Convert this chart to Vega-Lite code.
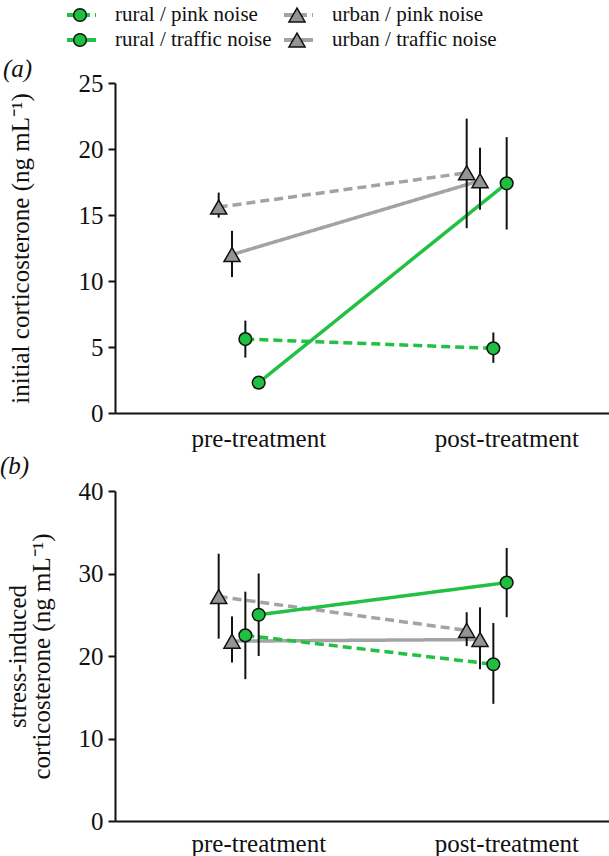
{
  "$schema": "https://vega.github.io/schema/vega-lite/v6.json",
  "padding": {"left": 0, "top": 4, "right": 0, "bottom": 0},
  "background": "white",
  "config": {
    "font": "Liberation Serif",
    "view": {"stroke": null},
    "axis": {
      "labelFont": "Liberation Serif", "titleFont": "Liberation Serif",
      "labelColor": "#111", "titleColor": "#111", "domainColor": "#111", "tickColor": "#111",
      "domainWidth": 2, "tickWidth": 2, "grid": false,
      "labelFontSize": 25, "titleFontSize": 25, "titleFontWeight": "normal"
    },
    "title": {"font": "Liberation Serif", "fontSize": 25, "fontWeight": "normal", "fontStyle": "italic", "color": "#111", "anchor": "start", "frame": "bounds"}
  },
  "datasets": {
    "groups": [
      {"habitat": "rural", "noise": "pink noise", "group": "rural / pink noise"},
      {"habitat": "rural", "noise": "traffic noise", "group": "rural / traffic noise"},
      {"habitat": "urban", "noise": "pink noise", "group": "urban / pink noise"},
      {"habitat": "urban", "noise": "traffic noise", "group": "urban / traffic noise"}
    ],
    "a": [
      {"phase": "pre-treatment", "habitat": "urban", "noise": "pink noise", "group": "urban / pink noise", "mean": 15.6, "lo": 14.8, "hi": 16.7},
      {"phase": "pre-treatment", "habitat": "urban", "noise": "traffic noise", "group": "urban / traffic noise", "mean": 12.0, "lo": 10.3, "hi": 13.8},
      {"phase": "pre-treatment", "habitat": "rural", "noise": "pink noise", "group": "rural / pink noise", "mean": 5.6, "lo": 4.2, "hi": 7.0},
      {"phase": "pre-treatment", "habitat": "rural", "noise": "traffic noise", "group": "rural / traffic noise", "mean": 2.3, "lo": 2.0, "hi": 2.6},
      {"phase": "post-treatment", "habitat": "urban", "noise": "pink noise", "group": "urban / pink noise", "mean": 18.2, "lo": 14.0, "hi": 22.3},
      {"phase": "post-treatment", "habitat": "urban", "noise": "traffic noise", "group": "urban / traffic noise", "mean": 17.6, "lo": 15.4, "hi": 20.1},
      {"phase": "post-treatment", "habitat": "rural", "noise": "pink noise", "group": "rural / pink noise", "mean": 4.9, "lo": 3.8, "hi": 6.1},
      {"phase": "post-treatment", "habitat": "rural", "noise": "traffic noise", "group": "rural / traffic noise", "mean": 17.4, "lo": 13.9, "hi": 20.9}
    ],
    "b": [
      {"phase": "pre-treatment", "habitat": "urban", "noise": "pink noise", "group": "urban / pink noise", "mean": 27.2, "lo": 22.1, "hi": 32.4},
      {"phase": "pre-treatment", "habitat": "urban", "noise": "traffic noise", "group": "urban / traffic noise", "mean": 21.8, "lo": 19.2, "hi": 24.8},
      {"phase": "pre-treatment", "habitat": "rural", "noise": "pink noise", "group": "rural / pink noise", "mean": 22.5, "lo": 17.2, "hi": 27.8},
      {"phase": "pre-treatment", "habitat": "rural", "noise": "traffic noise", "group": "rural / traffic noise", "mean": 25.0, "lo": 20.0, "hi": 30.0},
      {"phase": "post-treatment", "habitat": "urban", "noise": "pink noise", "group": "urban / pink noise", "mean": 23.1, "lo": 21.2, "hi": 25.3},
      {"phase": "post-treatment", "habitat": "urban", "noise": "traffic noise", "group": "urban / traffic noise", "mean": 22.0, "lo": 18.4, "hi": 25.9},
      {"phase": "post-treatment", "habitat": "rural", "noise": "pink noise", "group": "rural / pink noise", "mean": 19.0, "lo": 14.2, "hi": 24.0},
      {"phase": "post-treatment", "habitat": "rural", "noise": "traffic noise", "group": "rural / traffic noise", "mean": 28.9, "lo": 24.7, "hi": 33.1}
    ]
  },
  "spacing": 43,
  "bounds": "flush",
  "vconcat": [
    {
      "width": 496,
      "height": 25,
      "data": {"name": "groups"},
      "encoding": {
        "x": {"field": "habitat", "type": "nominal", "scale": {"type": "point", "domain": ["rural", "urban"], "range": [-35, 182], "padding": 0}, "axis": null},
        "y": {"field": "noise", "type": "nominal", "scale": {"type": "point", "domain": ["pink noise", "traffic noise"], "range": [0, 25], "padding": 0}, "axis": null}
      },
      "layer": [
        {
          "mark": {"type": "rule", "strokeWidth": 4, "xOffset": -13, "x2Offset": 16},
          "encoding": {
            "x2": {"field": "habitat"},
            "color": {"field": "habitat", "type": "nominal", "scale": {"domain": ["rural", "urban"], "range": ["#22c043", "#a3a3a3"]}, "legend": null},
            "strokeDash": {"field": "noise", "type": "nominal", "scale": {"domain": ["pink noise", "traffic noise"], "range": [[9, 5], [1, 0]]}, "legend": null}
          }
        },
        {
          "mark": {"type": "point", "filled": true, "stroke": "#111", "strokeWidth": 1.5, "opacity": 1},
          "encoding": {
            "fill": {"field": "habitat", "type": "nominal", "scale": {"domain": ["rural", "urban"], "range": ["#1fbf3f", "#949494"]}, "legend": null},
            "shape": {"field": "habitat", "type": "nominal", "scale": {"domain": ["rural", "urban"], "range": ["circle", "triangle-up"]}, "legend": null},
            "size": {"field": "habitat", "type": "nominal", "scale": {"domain": ["rural", "urban"], "range": [160, 260]}, "legend": null}
          }
        },
        {
          "mark": {"type": "text", "align": "left", "baseline": "middle", "dx": 35, "fontSize": 21, "font": "Liberation Serif", "color": "#111"},
          "encoding": {"text": {"field": "group"}}
        }
      ]
    },
    {
      "spacing": 78,
      "bounds": "flush",
      "vconcat": [
        {
          "width": 496,
          "height": 330,
          "data": {"name": "a"},
          "title": {"text": "(a)", "offset": -11, "dx": -5},
          "encoding": {
            "x": {"field": "phase", "type": "nominal", "sort": ["pre-treatment", "post-treatment"], "scale": {"paddingInner": 0.16, "paddingOuter": 0.08, "align": 1}, "axis": {"title": null, "ticks": false, "labelPadding": 13, "labelAngle": 0}},
            "xOffset": {"field": "group", "type": "nominal", "sort": ["urban / pink noise", "urban / traffic noise", "rural / pink noise", "rural / traffic noise"], "scale": {"type": "point", "range": [64, 104], "padding": 0}}
          },
          "layer": [
            {
              "mark": {"type": "line", "strokeWidth": 3.5},
              "encoding": {
                "y": {"field": "mean", "type": "quantitative", "scale": {"domain": [0, 25], "nice": false}, "axis": {"title": "initial corticosterone (ng mL⁻¹)", "values": [0, 5, 10, 15, 20, 25], "tickSize": 7, "labelPadding": 5, "titlePadding": 45}},
                "color": {"field": "habitat", "type": "nominal", "scale": {"domain": ["rural", "urban"], "range": ["#22c043", "#a3a3a3"]}, "legend": null},
                "strokeDash": {"field": "noise", "type": "nominal", "scale": {"domain": ["pink noise", "traffic noise"], "range": [[9, 5], [1, 0]]}, "legend": null},
                "detail": {"field": "group"}
              }
            },
            {
              "mark": {"type": "rule", "strokeWidth": 2, "color": "#111"},
              "encoding": {
                "y": {"field": "lo", "type": "quantitative"},
                "y2": {"field": "hi"}
              }
            },
            {
              "mark": {"type": "point", "filled": true, "stroke": "#111", "strokeWidth": 1.5, "opacity": 1},
              "encoding": {
                "y": {"field": "mean", "type": "quantitative"},
                "fill": {"field": "habitat", "type": "nominal", "scale": {"domain": ["rural", "urban"], "range": ["#1fbf3f", "#949494"]}, "legend": null},
                "shape": {"field": "habitat", "type": "nominal", "scale": {"domain": ["rural", "urban"], "range": ["circle", "triangle-up"]}, "legend": null},
                "size": {"field": "habitat", "type": "nominal", "scale": {"domain": ["rural", "urban"], "range": [240, 300]}, "legend": null}
              }
            }
          ]
        },
        {
          "width": 496,
          "height": 330,
          "data": {"name": "b"},
          "title": {"text": "(b)", "offset": 0, "dx": -5},
          "encoding": {
            "x": {"field": "phase", "type": "nominal", "sort": ["pre-treatment", "post-treatment"], "scale": {"paddingInner": 0.16, "paddingOuter": 0.08, "align": 1}, "axis": {"title": null, "ticks": false, "labelPadding": 10, "labelAngle": 0}},
            "xOffset": {"field": "group", "type": "nominal", "sort": ["urban / pink noise", "urban / traffic noise", "rural / pink noise", "rural / traffic noise"], "scale": {"type": "point", "range": [64, 104], "padding": 0}}
          },
          "layer": [
            {
              "mark": {"type": "line", "strokeWidth": 3.5},
              "encoding": {
                "y": {"field": "mean", "type": "quantitative", "scale": {"domain": [0, 40], "nice": false}, "axis": {"title": ["stress-induced", "corticosterone (ng mL⁻¹)"], "titleLineHeight": 24, "values": [0, 10, 20, 30, 40], "tickSize": 7, "labelPadding": 5, "titlePadding": 24}},
                "color": {"field": "habitat", "type": "nominal", "scale": {"domain": ["rural", "urban"], "range": ["#22c043", "#a3a3a3"]}, "legend": null},
                "strokeDash": {"field": "noise", "type": "nominal", "scale": {"domain": ["pink noise", "traffic noise"], "range": [[9, 5], [1, 0]]}, "legend": null},
                "detail": {"field": "group"}
              }
            },
            {
              "mark": {"type": "rule", "strokeWidth": 2, "color": "#111"},
              "encoding": {
                "y": {"field": "lo", "type": "quantitative"},
                "y2": {"field": "hi"}
              }
            },
            {
              "mark": {"type": "point", "filled": true, "stroke": "#111", "strokeWidth": 1.5, "opacity": 1},
              "encoding": {
                "y": {"field": "mean", "type": "quantitative"},
                "fill": {"field": "habitat", "type": "nominal", "scale": {"domain": ["rural", "urban"], "range": ["#1fbf3f", "#949494"]}, "legend": null},
                "shape": {"field": "habitat", "type": "nominal", "scale": {"domain": ["rural", "urban"], "range": ["circle", "triangle-up"]}, "legend": null},
                "size": {"field": "habitat", "type": "nominal", "scale": {"domain": ["rural", "urban"], "range": [240, 300]}, "legend": null}
              }
            }
          ]
        }
      ]
    }
  ]
}
